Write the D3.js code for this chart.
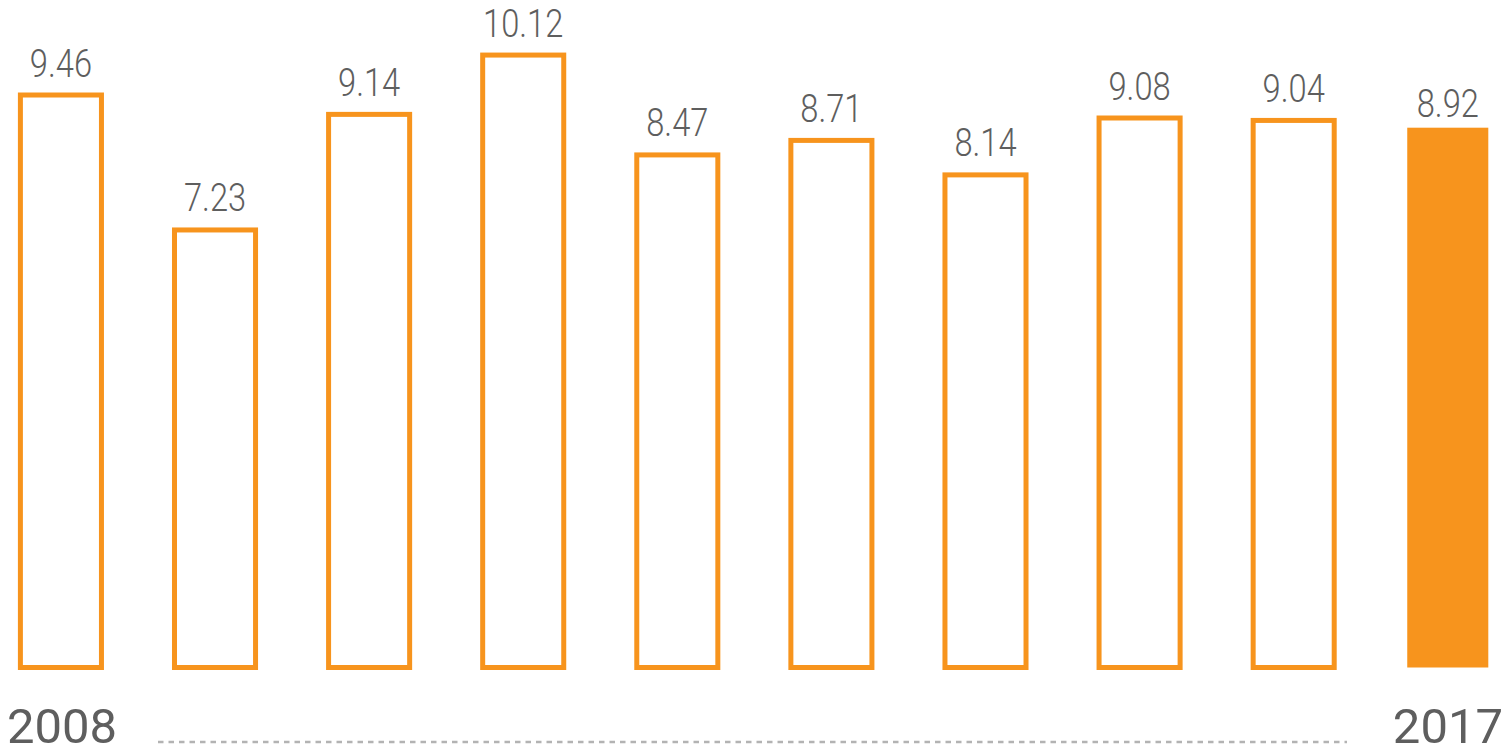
<!DOCTYPE html>
<html>
<head>
<meta charset="utf-8">
<script src="https://cdn.jsdelivr.net/npm/d3@7"></script>
<style>
  html, body { margin: 0; padding: 0; background: #fff; }
  svg { display: block; }
</style>
</head>
<body>
<svg id="chart" width="1509" height="750"></svg>
<script>
// Annual values, 2008–2017
const years = ["2008", "2009", "2010", "2011", "2012", "2013", "2014", "2015", "2016", "2017"];
const values = [9.46, 7.23, 9.14, 10.12, 8.47, 8.71, 8.14, 9.08, 9.04, 8.92];
const endLabels = ["2008", "2017"];

const orange = "#f7941d";
const textGrey = "#5e5e5e";

const svg = d3.select("#chart");

const baseline = 667.5;
const x = d3.scaleBand()
  .domain(years)
  .range([20.4, 1488.3])
  .paddingInner(0.474)
  .paddingOuter(0);

const y = d3.scaleLinear()
  .domain([0, 11.03])
  .range([baseline, 0]);

const data = years.map((yr, i) => ({ year: yr, value: values[i], last: i === years.length - 1 }));

// Bars: outlined for earlier years, solid for the latest year
svg.append("g")
  .selectAll("rect")
  .data(data)
  .join("rect")
  .attr("x", d => x(d.year))
  .attr("y", d => y(d.value))
  .attr("width", x.bandwidth())
  .attr("height", d => y(0) - y(d.value))
  .attr("fill", d => d.last ? orange : "#fff")
  .attr("stroke", d => d.last ? "none" : orange)
  .attr("stroke-width", 5);

// Value labels above each bar (condensed light digits)
svg.append("g")
  .selectAll("text")
  .data(data)
  .join("text")
  .attr("transform", d => {
    const cx = x(d.year) + x.bandwidth() / 2;
    const by = y(d.value) - (d.last ? 11 : 18.5);
    return `translate(${cx},${by}) scale(0.86,1)`;
  })
  .attr("text-anchor", "middle")
  .attr("font-family", "Roboto, sans-serif")
  .attr("font-weight", 300)
  .attr("font-size", 38)
  .attr("fill", textGrey)
  .text(d => d.value.toFixed(2));

// Timeline: first and last year with a dotted connector
svg.append("text")
  .attr("x", 7)
  .attr("y", 743)
  .attr("font-family", "Roboto, sans-serif")
  .attr("font-weight", 400)
  .attr("font-size", 49)
  .attr("fill", textGrey)
  .text(endLabels[0]);

svg.append("text")
  .attr("x", 1503)
  .attr("y", 743)
  .attr("text-anchor", "end")
  .attr("font-family", "Roboto, sans-serif")
  .attr("font-weight", 400)
  .attr("font-size", 49)
  .attr("fill", textGrey)
  .text(endLabels[1]);

svg.append("line")
  .attr("x1", 158)
  .attr("x2", 1347)
  .attr("y1", 742)
  .attr("y2", 742)
  .attr("stroke", "#b3b3b3")
  .attr("stroke-width", 2.5)
  .attr("stroke-dasharray", "5.5,5");
</script>
</body>
</html>
